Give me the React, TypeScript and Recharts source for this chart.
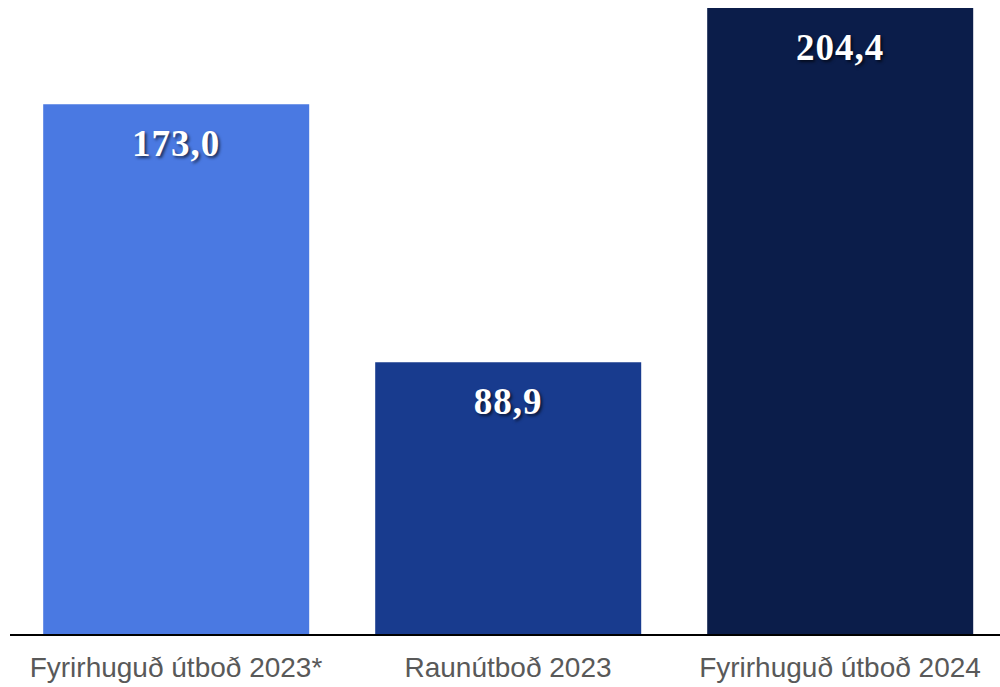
import React from "react";
import { BarChart, Bar, XAxis, YAxis, Cell, LabelList } from "recharts";

const categories = ["Fyrirhuguð útboð 2023*", "Raunútboð 2023", "Fyrirhuguð útboð 2024"];
const values = [173.0, 88.9, 204.4];
const valueLabels = ["173,0", "88,9", "204,4"];
const colors = ["#4a79e2", "#183b8e", "#0b1d4a"];

const data = categories.map((name, i) => ({ name, value: values[i], label: valueLabels[i] }));

const ValueLabel = (props: any) => {
  const { x, y, width, index } = props;
  return (
    <text
      x={Number(x) + Number(width) / 2}
      y={Number(y) + 52}
      textAnchor="middle"
      fill="#ffffff"
      fontFamily="'Liberation Serif', 'Times New Roman', serif"
      fontWeight="bold"
      fontSize={37}
      letterSpacing={1}
      style={{ textShadow: "2px 2px 3px rgba(0,0,0,0.6)" }}
    >
      {valueLabels[index]}
    </text>
  );
};

const CategoryTick = (props: any) => {
  const { x, y, payload } = props;
  return (
    <text
      x={x}
      y={y}
      dy={42}
      textAnchor="middle"
      fill="#595959"
      fontFamily="'Liberation Sans', Arial, sans-serif"
      fontSize={28}
    >
      {payload.value}
    </text>
  );
};

export default function App() {
  return (
    <div style={{ position: "absolute", left: 0, top: 0, width: 1000, height: 687, overflow: "hidden", background: "#fff" }}>
      <BarChart
        width={1006}
        height={687}
        data={data}
        margin={{ top: 8, right: 0, left: 10, bottom: 0 }}
        barCategoryGap="10%"
      >
        <XAxis
          dataKey="name"
          height={52}
          tickLine={false}
          axisLine={{ stroke: "#000000", strokeWidth: 2 }}
          tickSize={0}
          tickMargin={0}
          interval={0}
          tick={<CategoryTick />}
        />
        <YAxis hide domain={[0, 204.4]} />
        <Bar dataKey="value" isAnimationActive={false}>
          {data.map((d, i) => (
            <Cell key={d.name} fill={colors[i]} />
          ))}
          <LabelList dataKey="label" content={<ValueLabel />} />
        </Bar>
      </BarChart>
    </div>
  );
}
